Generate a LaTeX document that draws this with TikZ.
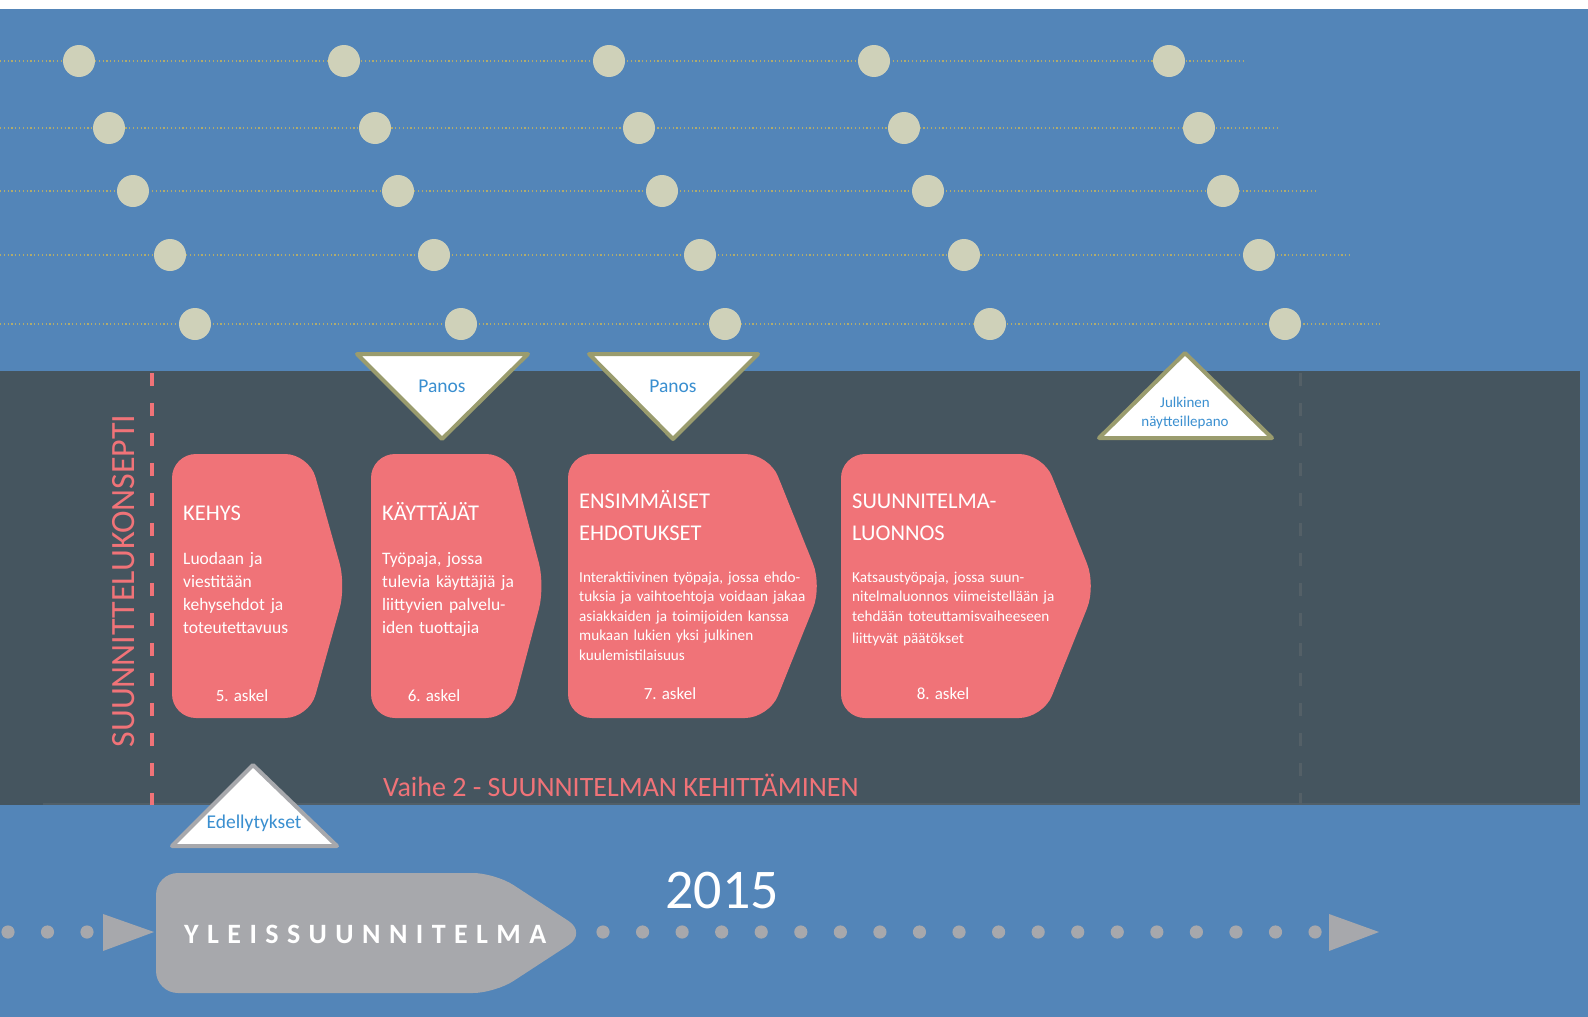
\documentclass[tikz,border=0pt]{standalone}
\usepackage{fontspec}
\setmainfont{Carlito}
\usepackage{tikz}

\definecolor{skyblue}{HTML}{5385B8}
\definecolor{slate}{HTML}{45555F}
\definecolor{bead}{HTML}{CFD1B9}
\definecolor{thread}{HTML}{B0AB6E}
\definecolor{salmon}{HTML}{F07378}
\definecolor{stone}{HTML}{A7A8AC}
\definecolor{moss}{HTML}{9A9C6E}
\definecolor{inkblue}{HTML}{3A8FD0}

\tikzset{
 beadline/.style={thread,line width=1.2pt,dash pattern=on 1.2pt off 2.6pt},
 stepbox/.style={fill=salmon,rounded corners=24pt},
 steptitle/.style={anchor=base west,inner sep=0,text=white,text width=240pt,align=left,font=\fontsize{22.5}{32}\selectfont},
 steptext/.style={anchor=base west,inner sep=0,text=white,text width=170pt,align=left,font=\fontsize{17.5}{23}\selectfont},
 smalltext/.style={anchor=base west,inner sep=0,text=white,text width=260pt,align=left,font=\fontsize{15.2}{19.5}\selectfont},
 stepno/.style={anchor=base,inner sep=0,text=white,font=\fontsize{17}{19}\selectfont},
 panos/.style={fill=white,draw=moss,line width=4pt,line join=round},
 trilabel/.style={anchor=base,inner sep=0,text=inkblue,font=\fontsize{19.5}{22}\selectfont}
}

\begin{document}
\begin{tikzpicture}[x=1pt,y=-1pt]
\useasboundingbox (0,0) rectangle (1588,1017);
% background bands
\fill[white] (0,0) rectangle (1588,9);
\fill[skyblue] (0,9) rectangle (1588,1017);
\fill[slate] (0,371) rectangle (1580,805);
\draw[line width=1.2pt,slate!88!stone] (43,804) -- (1580,804);

% bead rows
\draw[beadline] (0,61) -- (1244,61);
\draw[beadline] (0,128) -- (1280,128);
\draw[beadline] (0,191) -- (1317,191);
\draw[beadline] (0,255) -- (1352,255);
\draw[beadline] (0,324) -- (1380,324);
\fill[bead] (79,61) circle (16) (344,61) circle (16) (609,61) circle (16) (874,61) circle (16) (1169,61) circle (16);
\fill[bead] (109,128) circle (16) (375,128) circle (16) (639,128) circle (16) (904,128) circle (16) (1199,128) circle (16);
\fill[bead] (133,191) circle (16) (398,191) circle (16) (662,191) circle (16) (928,191) circle (16) (1223,191) circle (16);
\fill[bead] (170,255) circle (16) (434,255) circle (16) (700,255) circle (16) (964,255) circle (16) (1259,255) circle (16);
\fill[bead] (195,324) circle (16) (461,324) circle (16) (725,324) circle (16) (990,324) circle (16) (1285,324) circle (16);

% phase borders
\draw[salmon,line width=3.5pt,dash pattern=on 13pt off 17pt] (152,373) -- (152,805);
\draw[slate!75!gray,line width=3pt,dash pattern=on 13pt off 17pt] (1300,373) -- (1300,805);
\node[rotate=90,inner sep=0,text=salmon,font=\fontsize{34}{36}\selectfont] (konsepti) at (124,581) {SUUNNITTELUKONSEPTI};
\node[anchor=base west,inner sep=0,text=salmon,font=\fontsize{28}{30}\selectfont] (vaihe) at (383,796) {Vaihe 2 - SUUNNITELMAN KEHITTÄMINEN};

% steps
\fill[stepbox] (172,454) -- (309,454) -- (346,586) -- (309,718) -- (172,718) -- cycle;
\node[steptitle] (kehys) at (183,520) {KEHYS};
\node[steptext] (kehysteksti) at (183,564) {Luodaan ja\\ viestitään\\ kehysehdot ja\\ toteutettavuus};
\node[stepno] (askel5) at (242,701) {5. askel};

\fill[stepbox] (371,454) -- (510,454) -- (545,586) -- (510,718) -- (371,718) -- cycle;
\node[steptitle] (kayttajat) at (382,520) {KÄYTTÄJÄT};
\node[steptext] (kayttajateksti) at (382,564) {Työpaja, jossa\\ tulevia käyttäjiä ja\\ liittyvien palvelu-\\ iden tuottajia};
\node[stepno] (askel6) at (434,701) {6. askel};

\fill[stepbox] (568,454) -- (769,454) -- (822,586) -- (769,718) -- (568,718) -- cycle;
\node[steptitle] (ehdotukset) at (579,508) {ENSIMMÄISET\\ EHDOTUKSET};
\node[smalltext] (ehdotusteksti) at (579,582) {Interaktiivinen työpaja, jossa ehdo-\\ tuksia ja vaihtoehtoja voidaan jakaa\\ asiakkaiden ja toimijoiden kanssa\\ mukaan lukien yksi julkinen\\ kuulemistilaisuus};
\node[stepno] (askel7) at (670,699) {7. askel};

\fill[stepbox] (841,454) -- (1043,454) -- (1096,586) -- (1043,718) -- (841,718) -- cycle;
\node[steptitle] (luonnos) at (852,508) {SUUNNITELMA-\\ LUONNOS};
\node[smalltext] (luonnosteksti) at (852,582) {Katsaustyöpaja, jossa suun-\\ nitelmaluonnos viimeistellään ja\\ tehdään toteuttamisvaiheeseen\\[3pt] liittyvät päätökset};
\node[stepno] (askel8) at (943,699) {8. askel};

% inputs
\filldraw[panos] (357,354) -- (528,354) -- (442,439) -- cycle;
\node[trilabel] (panos1) at (442,392) {Panos};
\filldraw[panos] (589,354) -- (758,354) -- (673,439) -- cycle;
\node[trilabel] (panos2) at (673,392) {Panos};
\filldraw[panos] (1185,353) -- (1272,438) -- (1099,438) -- cycle;
\node[trilabel,text width=120pt,align=center,font=\fontsize{15}{19}\selectfont] (julkinen) at (1185,407) {Julkinen\\ näytteillepano};
\filldraw[panos,draw=stone] (253,765) -- (337,846) -- (172,846) -- cycle;
\node[trilabel] (edellytykset) at (254,828) {Edellytykset};

% timeline
\fill[stone] (8,932) circle (6.6) (47.5,932) circle (6.6) (87,932) circle (6.6);
\fill[stone] (103,914) -- (154,932) -- (103,951) -- cycle;
\fill[stone,rounded corners=22pt] (156,873) -- (495,873) -- (587,933) -- (495,993) -- (156,993) -- cycle;
\node[anchor=base west,inner sep=0,text=white,font=\bfseries\fontsize{28}{30}\selectfont] (yleis) at (184,943) {\makebox[362pt][s]{Y\hfill L\hfill E\hfill I\hfill S\hfill S\hfill U\hfill U\hfill N\hfill N\hfill I\hfill T\hfill E\hfill L\hfill M\hfill A}};
\foreach \i in {0,...,18} \fill[stone] (603+39.56*\i,932) circle (6.6);
\fill[stone] (1329,914) -- (1379,932) -- (1329,951) -- cycle;
\node[anchor=base,inner sep=0,text=white,font=\fontsize{56}{60}\selectfont] (vuosi) at (722,908) {2015};
\end{tikzpicture}
\end{document}
